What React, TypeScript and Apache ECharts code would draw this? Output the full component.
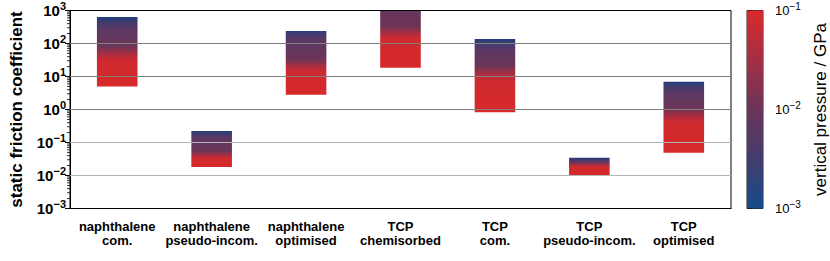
import React, { useEffect, useRef } from "react";
import * as echarts from "echarts";

const categories = [
  "naphthalene\ncom.",
  "naphthalene\npseudo-incom.",
  "naphthalene\noptimised",
  "TCP\nchemisorbed",
  "TCP\ncom.",
  "TCP\npseudo-incom.",
  "TCP\noptimised",
];
// friction coefficient at highest pressure (bottom, red) and lowest pressure (top, blue)
const muLow = [5.0, 0.018, 2.8, 18.4, 0.83, 0.0096, 0.049];
const muHigh = [630, 0.225, 240, 1000, 136, 0.0344, 6.9];
// fraction (from top) where blue ends and where purple turns red
const blueFrac = [0.07, 0.08, 0.04, 0, 0.055, 0.1, 0.06];
const redMid = [0.52, 0.66, 0.54, 0.38, 0.47, 0.38, 0.47];
const pressureTicks = [0.001, 0.01, 0.1];
const gridDark = [1, 10, 100];
const gridLight = [0.01, 0.1];

const FONT = "Liberation Sans, Arial, sans-serif";

function expLabel(v: number) {
  const e = Math.round(Math.log10(v));
  const s = e < 0 ? "\u2212" + -e : String(e);
  return `{b|10}{s|${s}}`;
}

function barGradient(b: number, r: number) {
  const stops: { offset: number; color: string }[] = [];
  if (b > 0) {
    stops.push({ offset: 0, color: "#1f3f7e" });
    stops.push({ offset: b, color: "#3f3b6d" });
    stops.push({ offset: Math.min(b + 0.1, r - 0.16), color: "#5b3863" });
  } else {
    stops.push({ offset: 0, color: "#673559" });
  }
  stops.push({ offset: r - 0.1, color: "#6c3558" });
  stops.push({ offset: r, color: "#a42e43" });
  stops.push({ offset: Math.min(r + 0.1, 0.99), color: "#cf2a2f" });
  stops.push({ offset: 1, color: "#d7292a" });
  return new echarts.graphic.LinearGradient(0, 0, 0, 1, stops);
}

export default function App() {
  const ref = useRef<HTMLDivElement>(null);
  useEffect(() => {
    if (!ref.current) return;
    const chart = echarts.init(ref.current, undefined, { renderer: "svg" });
    const minorVals: number[][] = [];
    for (let k = -3; k < 3; k++) {
      for (let m = 2; m <= 9; m++) minorVals.push([0, m * Math.pow(10, k)]);
    }
    const labelRich = {
      b: { fontSize: 15, fontWeight: "bold", fontFamily: FONT, color: "#000" },
      s: { fontSize: 11, fontWeight: "bold", fontFamily: FONT, color: "#000", padding: [0, 0, 9, 0] },
    };
    const cbRich = {
      b: { fontSize: 13, fontFamily: FONT, color: "#000" },
      s: { fontSize: 10, fontFamily: FONT, color: "#000", padding: [0, 0, 8, 0] },
    };
    chart.setOption({
      animation: false,
      textStyle: { fontFamily: FONT },
      grid: [
        { left: 66, top: 10.5, width: 665, height: 198, show: true, borderColor: "#000", borderWidth: 1, backgroundColor: "transparent" },
        { left: 747, top: 10.5, width: 16, height: 198, show: true, borderColor: "#222", borderWidth: 1, backgroundColor: "transparent" },
      ],
      xAxis: [
        {
          type: "category",
          data: categories,
          gridIndex: 0,
          axisLine: { lineStyle: { color: "#000", width: 1 } },
          axisTick: { alignWithLabel: true, length: 5, lineStyle: { color: "#000" } },
          axisLabel: { fontSize: 13, fontWeight: "bold", color: "#000", lineHeight: 14, margin: 11, interval: 0 },
          splitLine: { show: false },
        },
        { type: "value", gridIndex: 1, show: false, min: 0, max: 1 },
      ],
      yAxis: [
        {
          type: "log",
          gridIndex: 0,
          min: 0.001,
          max: 1000,
          logBase: 10,
          axisLine: { show: true, lineStyle: { color: "#000", width: 1 } },
          axisTick: { show: true, length: 5, lineStyle: { color: "#000" } },
          axisLabel: { formatter: expLabel, rich: labelRich, margin: 4 },
          splitLine: { show: false },
          name: "static friction coefficient",
          nameLocation: "middle",
          nameRotate: 90,
          nameGap: 45,
          nameTextStyle: { fontSize: 17, fontWeight: "bold", color: "#000", fontFamily: FONT },
        },
        {
          type: "log",
          gridIndex: 1,
          min: 0.001,
          max: 0.1,
          logBase: 10,
          position: "right",
          axisLine: { show: false },
          axisTick: { show: true, length: 5, lineStyle: { color: "#000" } },
          axisLabel: { formatter: expLabel, rich: cbRich, margin: 12 },
          splitLine: { show: false },
          name: "vertical pressure / GPa",
          nameLocation: "middle",
          nameRotate: 90,
          nameGap: 49,
          nameTextStyle: { fontSize: 17, color: "#000", fontFamily: FONT },
        },
      ],
      series: [
        {
          type: "custom",
          xAxisIndex: 0,
          yAxisIndex: 0,
          z: 2,
          clip: true,
          data: categories.map((_, i) => [i, muLow[i], muHigh[i]]),
          encode: { x: 0, y: [1, 2] },
          renderItem: (params: any, api: any) => {
            const i = api.value(0);
            const lo = api.value(1);
            const hi = api.value(2);
            const pTop = api.coord([i, hi]);
            const pBot = api.coord([i, lo]);
            const w = (params.coordSys.width / categories.length) * 0.43;
            return {
              type: "rect",
              shape: { x: pTop[0] - w / 2, y: pTop[1], width: w, height: pBot[1] - pTop[1] },
              style: { fill: barGradient(blueFrac[i], redMid[i]) },
            };
          },
        },
        {
          type: "line",
          xAxisIndex: 0,
          yAxisIndex: 0,
          data: [],
          z: 5,
          silent: true,
          markLine: {
            silent: true,
            symbol: ["none", "none"],
            label: { show: false },
            animation: false,
            data: [
              ...gridDark.map((v) => ({ yAxis: v, lineStyle: { color: "#808080", width: 1, type: "solid" } })),
              ...gridLight.map((v) => ({ yAxis: v, lineStyle: { color: "#b4b4b4", width: 1, type: "solid" } })),
              { yAxis: 1000, lineStyle: { color: "#000", width: 1, type: "solid" } },
            ],
          },
        },
        {
          type: "custom",
          xAxisIndex: 0,
          yAxisIndex: 0,
          z: 6,
          clip: false,
          silent: true,
          data: minorVals,
          encode: { x: 0, y: 1 },
          renderItem: (params: any, api: any) => {
            const p = api.coord([0, api.value(1)]);
            const x0 = params.coordSys.x;
            return {
              type: "line",
              shape: { x1: x0 - 3, y1: p[1], x2: x0, y2: p[1] },
              style: { stroke: "#000", lineWidth: 0.8 },
            };
          },
        },
        {
          type: "custom",
          xAxisIndex: 1,
          yAxisIndex: 1,
          z: 2,
          silent: true,
          data: [[0.5, pressureTicks[1]]],
          encode: { x: 0, y: 1 },
          renderItem: (params: any) => {
            const c = params.coordSys;
            return {
              type: "rect",
              shape: { x: c.x, y: c.y, width: c.width, height: c.height },
              style: {
                fill: new echarts.graphic.LinearGradient(0, 0, 0, 1, [
                  { offset: 0, color: "#d92a2b" },
                  { offset: 0.25, color: "#a42f43" },
                  { offset: 0.5, color: "#6b3459" },
                  { offset: 0.75, color: "#433d6e" },
                  { offset: 1, color: "#164a8c" },
                ]),
              },
            };
          },
        },
      ],
    });
    return () => chart.dispose();
  }, []);
  return (
    <div
      ref={ref}
      style={{ position: "fixed", left: 0, top: 0, width: 830, height: 261, background: "#fff" }}
    />
  );
}
